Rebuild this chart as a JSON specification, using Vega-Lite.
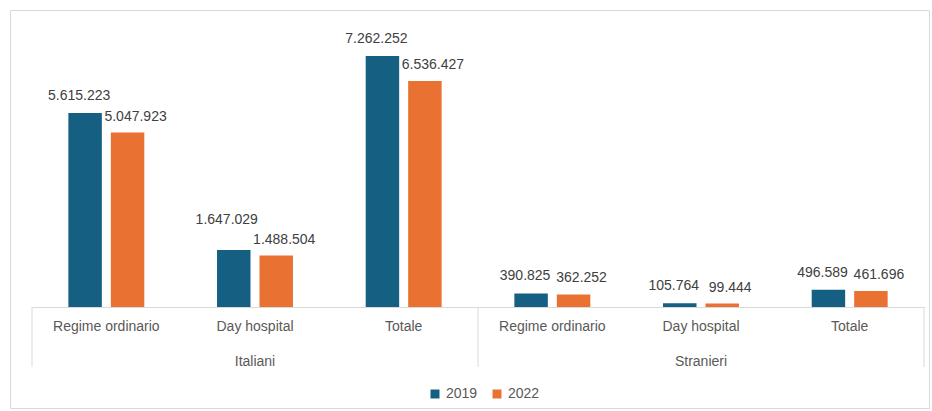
{
  "$schema": "https://vega.github.io/schema/vega-lite/v6.json",
  "width": 919,
  "height": 398,
  "autosize": {"type": "none"},
  "padding": {"left": 10, "top": 10, "right": 3, "bottom": 3},
  "background": "white",
  "config": {
    "view": {"stroke": "#d9d9d9", "strokeWidth": 1},
    "font": "Liberation Sans",
    "locale": {"number": {"decimal": ",", "thousands": ".", "grouping": [3], "currency": ["€", ""]}}
  },
  "layer": [
    {
      "data": {"values": [
        {"group": "Italiani", "category": "Regime ordinario", "key": "Italiani|Regime ordinario", "year": "2019", "value": 5615223},
        {"group": "Italiani", "category": "Regime ordinario", "key": "Italiani|Regime ordinario", "year": "2022", "value": 5047923},
        {"group": "Italiani", "category": "Day hospital", "key": "Italiani|Day hospital", "year": "2019", "value": 1647029},
        {"group": "Italiani", "category": "Day hospital", "key": "Italiani|Day hospital", "year": "2022", "value": 1488504},
        {"group": "Italiani", "category": "Totale", "key": "Italiani|Totale", "year": "2019", "value": 7262252},
        {"group": "Italiani", "category": "Totale", "key": "Italiani|Totale", "year": "2022", "value": 6536427},
        {"group": "Stranieri", "category": "Regime ordinario", "key": "Stranieri|Regime ordinario", "year": "2019", "value": 390825},
        {"group": "Stranieri", "category": "Regime ordinario", "key": "Stranieri|Regime ordinario", "year": "2022", "value": 362252},
        {"group": "Stranieri", "category": "Day hospital", "key": "Stranieri|Day hospital", "year": "2019", "value": 105764},
        {"group": "Stranieri", "category": "Day hospital", "key": "Stranieri|Day hospital", "year": "2022", "value": 99444},
        {"group": "Stranieri", "category": "Totale", "key": "Stranieri|Totale", "year": "2019", "value": 496589},
        {"group": "Stranieri", "category": "Totale", "key": "Stranieri|Totale", "year": "2022", "value": 461696}
      ]},
      "encoding": {
        "x": {
          "field": "key", "type": "nominal",
          "scale": {
            "domain": ["Italiani|Regime ordinario", "Italiani|Day hospital", "Italiani|Totale", "Stranieri|Regime ordinario", "Stranieri|Day hospital", "Stranieri|Totale"],
            "paddingInner": 0, "paddingOuter": 0, "range": [22, 914]
          },
          "axis": {
            "title": null, "labelExpr": "split(datum.value, '|')[1]", "ticks": false,
            "domainColor": "#d9d9d9", "offset": -101, "labelAngle": 0,
            "labelFontSize": 14, "labelColor": "#595959", "labelPadding": 12, "labelFont": "Liberation Sans"
          }
        },
        "xOffset": {"field": "year", "type": "nominal", "scale": {"paddingInner": 0.212, "paddingOuter": 0.856}},
        "y": {"field": "value", "type": "quantitative", "scale": {"domain": [0, 8594000], "range": [297, 0], "nice": false}, "axis": null},
        "color": {
          "field": "year", "type": "nominal",
          "scale": {"range": ["#156082", "#e97132"]},
          "legend": {
            "orient": "none", "legendX": 418, "legendY": 377, "direction": "horizontal", "title": null,
            "symbolType": "square", "symbolSize": 81, "symbolStrokeWidth": 0, "labelFontSize": 14, "labelColor": "#595959",
            "labelFont": "Liberation Sans", "columnPadding": 12, "labelOffset": 4
          }
        }
      },
      "layer": [
        {"mark": {"type": "bar"}},
        {
          "transform": [{"filter": "datum.year == '2019' && datum.key != 'Italiani|Day hospital'"}],
          "mark": {"type": "text", "baseline": "bottom", "dy": -10, "dx": -6, "fontSize": 14, "color": "#404040"},
          "encoding": {"text": {"field": "value", "type": "quantitative", "format": ","}, "color": {"value": "#404040"}}
        },
        {
          "transform": [{"filter": "datum.year == '2019' && datum.key == 'Italiani|Day hospital'"}],
          "mark": {"type": "text", "baseline": "bottom", "dy": -23, "dx": -7, "fontSize": 14, "color": "#404040"},
          "encoding": {"text": {"field": "value", "type": "quantitative", "format": ","}, "color": {"value": "#404040"}}
        },
        {
          "transform": [{"filter": "datum.year == '2022'"}],
          "mark": {"type": "text", "baseline": "bottom", "dy": -9, "dx": 8, "fontSize": 14, "color": "#404040"},
          "encoding": {"text": {"field": "value", "type": "quantitative", "format": ","}, "color": {"value": "#404040"}}
        }
      ]
    },
    {
      "data": {"values": [{"key": "Italiani|Regime ordinario"}, {"key": "Stranieri|Regime ordinario"}]},
      "mark": {"type": "rule", "color": "#d9d9d9", "strokeWidth": 1},
      "encoding": {
        "x": {"field": "key", "type": "nominal", "bandPosition": 0},
        "y": {"datum": 0, "type": "quantitative"},
        "y2": {"datum": -1736000}
      }
    },
    {
      "data": {"values": [{"key": "Stranieri|Totale"}]},
      "mark": {"type": "rule", "color": "#d9d9d9", "strokeWidth": 1},
      "encoding": {
        "x": {"field": "key", "type": "nominal", "bandPosition": 1},
        "y": {"datum": 0, "type": "quantitative"},
        "y2": {"datum": -1736000}
      }
    },
    {
      "data": {"values": [{"key": "Italiani|Day hospital", "group": "Italiani"}, {"key": "Stranieri|Day hospital", "group": "Stranieri"}]},
      "mark": {"type": "text", "dy": 55, "fontSize": 14, "color": "#595959", "baseline": "middle"},
      "encoding": {
        "x": {"field": "key", "type": "nominal"},
        "y": {"datum": 0, "type": "quantitative"},
        "text": {"field": "group"}
      }
    }
  ]
}
